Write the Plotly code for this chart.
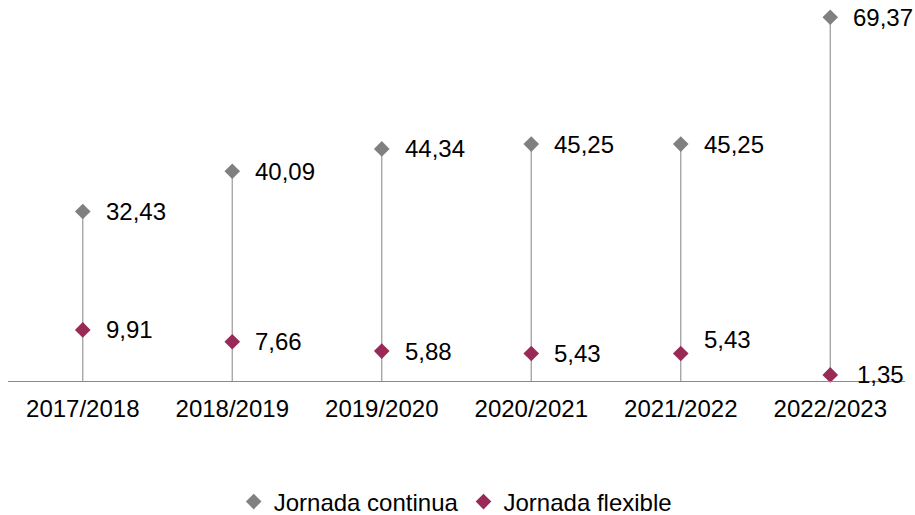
import plotly.graph_objects as go

categories = ["2017/2018", "2018/2019", "2019/2020", "2020/2021", "2021/2022", "2022/2023"]
continua = [32.43, 40.09, 44.34, 45.25, 45.25, 69.37]
flexible = [9.91, 7.66, 5.88, 5.43, 5.43, 1.35]

def fmt(v):
    return f"{v:.2f}".replace(".", ",")

GRAY = "#808080"
MAROON = "#992a58"
FONT = "Liberation Sans, Arial, sans-serif"
FS = 24

stem_x, stem_y = [], []
for c, v in zip(categories, continua):
    stem_x += [c, c, None]
    stem_y += [0, v, None]

fig = go.Figure()
fig.add_trace(go.Scatter(x=stem_x, y=stem_y, mode="lines",
                         line=dict(color="#a0a0a0", width=1.3),
                         showlegend=False, hoverinfo="skip", cliponaxis=False))
fig.add_trace(go.Scatter(x=categories, y=continua, mode="markers", name="Jornada continua",
                         marker=dict(symbol="diamond", size=12, color=GRAY), cliponaxis=False))
fig.add_trace(go.Scatter(x=categories, y=flexible, mode="markers", name="Jornada flexible",
                         marker=dict(symbol="diamond", size=12, color=MAROON), cliponaxis=False))

for i, (c, v) in enumerate(zip(categories, continua)):
    fig.add_annotation(x=c, y=v, text=fmt(v), showarrow=False, xanchor="left",
                       yanchor="middle", xshift=21, font=dict(size=FS, color="black", family=FONT))
for i, (c, v) in enumerate(zip(categories, flexible)):
    ys = 14 if i == 4 else 0
    xs = 25 if i == 5 else 21
    fig.add_annotation(x=c, y=v, text=fmt(v), showarrow=False, xanchor="left",
                       yanchor="middle", xshift=xs, yshift=ys,
                       font=dict(size=FS, color="black", family=FONT))

fig.update_layout(
    width=915, height=515,
    margin=dict(l=8, r=10, t=14, b=133, autoexpand=False),
    paper_bgcolor="white", plot_bgcolor="white",
    font=dict(family=FONT, size=FS, color="black"),
    showlegend=True,
    legend=dict(orientation="h", x=0.4975, xanchor="center", xref="container",
                y=13/515, yanchor="middle", yref="container",
                font=dict(size=FS, color="black"), itemwidth=30, tracegroupgap=0),
    xaxis=dict(type="category", range=[-0.5, 5.5], showgrid=False, zeroline=False,
               showline=False, ticks="", ticklabelstandoff=10, automargin=False,
               tickfont=dict(size=FS, color="black")),
    yaxis=dict(range=[0, 70], showgrid=False, zeroline=False, showline=False,
               showticklabels=False, ticks="", automargin=False),
)
fig.add_shape(type="line", xref="paper", yref="y", x0=0, x1=1, y0=0, y1=0,
              line=dict(color="#8a8a8a", width=2), layer="above")

fig.write_html("out.html", config={"displayModeBar": False},
               post_script="document.body.style.margin='0';document.body.style.overflow='hidden';")
